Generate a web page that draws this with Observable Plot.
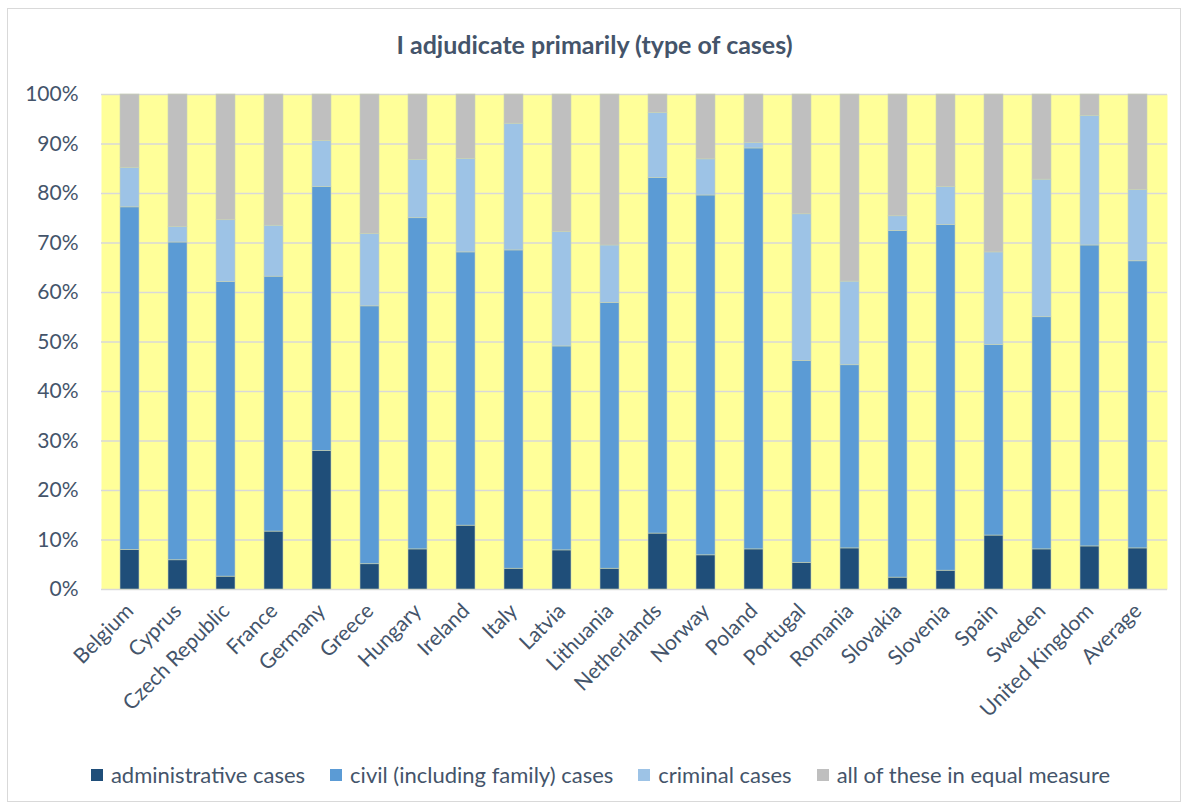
<!DOCTYPE html>
<html>
<head>
<meta charset="utf-8">
<script src="https://cdn.jsdelivr.net/npm/d3@7"></script>
<script src="https://cdn.jsdelivr.net/npm/@observablehq/plot@0.6"></script>
<style>
  html, body { margin: 0; padding: 0; background: #fff; }
  body { width: 1189px; height: 810px; position: relative; overflow: hidden; font-family: Lato, "Open Sans", sans-serif; }
  #frame { position: absolute; left: 7px; top: 8px; width: 1174px; height: 794px; border: 1px solid #D9D9D9; box-sizing: border-box; }
  #title { position: absolute; left: 0; width: 1189px; top: 29px; text-align: center; font-size: 25px; font-weight: bold; color: #44546A; line-height: 30px; }
  #chart { position: absolute; left: 0; top: 0; }
  #legend { position: absolute; left: 6px; width: 1189px; top: 762px; display: flex; justify-content: center; gap: 25px; font-size: 22px; line-height: 26px; color: #44546A; }
  .item { display: flex; align-items: center; gap: 8px; }
  .sw { width: 12px; height: 12px; display: inline-block; }
</style>
</head>
<body>
<div id="frame"></div>
<div id="title">I adjudicate primarily (type of cases)</div>
<div id="chart"></div>
<div id="legend"></div>
<script>
const countries = ["Belgium","Cyprus","Czech Republic","France","Germany","Greece","Hungary","Ireland","Italy","Latvia","Lithuania","Netherlands","Norway","Poland","Portugal","Romania","Slovakia","Slovenia","Spain","Sweden","United Kingdom","Average"];
const seriesNames = ["administrative cases","civil (including family) cases","criminal cases","all of these in equal measure"];
const seriesColors = ["#1F4E79","#5B9BD5","#9DC3E6","#BFBFBF"];
const administrative = [8.0,5.9,2.6,11.7,28.0,5.1,8.1,12.9,4.2,7.9,4.2,11.3,6.9,8.1,5.4,8.3,2.4,3.8,10.9,8.1,8.7,8.3];
const civil = [69.2,64.2,59.5,51.5,53.3,52.1,66.9,55.2,64.3,41.2,53.7,71.8,72.7,81.0,40.8,37.0,70.0,69.8,38.5,46.9,60.8,58.0];
const criminal = [8.0,3.1,12.5,10.3,9.3,14.6,11.8,18.9,25.6,23.1,11.6,13.2,7.3,1.1,29.6,16.9,3.0,7.7,18.7,27.8,26.2,14.4];
const equal = [14.8,26.8,25.4,26.5,9.4,28.2,13.2,13.0,5.9,27.8,30.5,3.7,13.1,9.8,24.2,37.8,24.6,18.7,31.9,17.2,4.3,19.3];
const yTicks = [0,10,20,30,40,50,60,70,80,90,100];

const seriesValues = [administrative, civil, criminal, equal];
const data = [];
countries.forEach((c, i) => {
  seriesNames.forEach((s, j) => data.push({country: c, series: s, value: seriesValues[j][i]}));
});

const plot = Plot.plot({
  width: 1189,
  height: 745,
  marginTop: 94,
  marginBottom: 156,
  marginLeft: 101,
  marginRight: 22,
  style: {fontFamily: "Lato, 'Open Sans', sans-serif", fontSize: "21px", color: "#44546A", background: "transparent"},
  x: {type: "band", domain: countries, paddingInner: 0.6, paddingOuter: 0.3, label: null},
  y: {domain: [0, 100], label: null},
  color: {domain: seriesNames, range: seriesColors},
  marks: [
    Plot.frame({fill: "#FFFF99", stroke: null}),
    Plot.ruleY(yTicks, {stroke: "#D9D9D9", strokeWidth: 1.5, strokeOpacity: 1}),
    Plot.barY(data, {x: "country", y: "value", fill: "series", order: seriesNames, stroke: "#C9D2B5", strokeWidth: 0.6}),
    Plot.axisY({ticks: yTicks, tickFormat: d => d + "%", tickSize: 0, tickPadding: 23, fontSize: 21, fill: "#44546A", label: null}),
    Plot.axisX({tickSize: 0, tickPadding: 18, tickRotate: -45, fontSize: 21, fill: "#44546A", label: null})
  ]
});
document.getElementById("chart").appendChild(plot);

const legend = document.getElementById("legend");
seriesNames.forEach((s, j) => {
  const item = document.createElement("div");
  item.className = "item";
  const sw = document.createElement("span");
  sw.className = "sw";
  sw.style.background = seriesColors[j];
  const t = document.createElement("span");
  t.textContent = s;
  item.appendChild(sw);
  item.appendChild(t);
  legend.appendChild(item);
});
</script>
</body>
</html>
